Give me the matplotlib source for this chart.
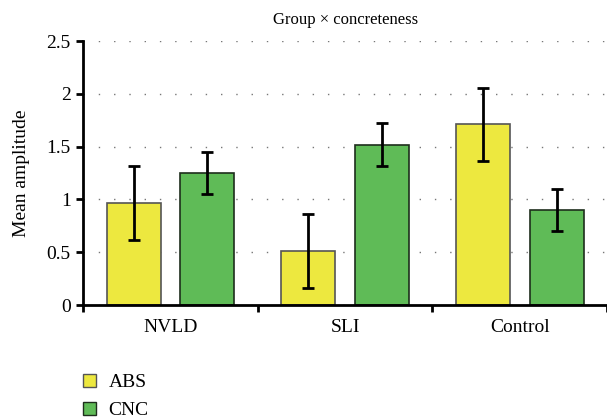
import numpy as np
import matplotlib.pyplot as plt
from matplotlib.patches import Patch

groups = ['NVLD', 'SLI', 'Control']
abs_mean = [0.97, 0.51, 1.71]
abs_err = [0.35, 0.35, 0.35]
cnc_mean = [1.25, 1.52, 0.90]
cnc_err = [0.20, 0.20, 0.20]

plt.rcParams['font.family'] = ['Liberation Serif', 'DejaVu Serif']
plt.rcParams['font.size'] = 14

fig = plt.figure(figsize=(6.07, 4.19), dpi=100)
ax = fig.add_axes([0.137, 0.272, 0.863, 0.630])

x = np.arange(len(groups)) + 0.5
w = 0.309
off = 0.211
gelb = '#ede83f'
gruen = '#5fbb57'

ax.bar(x - off, abs_mean, w, color=gelb, edgecolor='#555555', linewidth=1.2, zorder=2)
ax.bar(x + off, cnc_mean, w, color=gruen, edgecolor='#1e2e1c', linewidth=1.2, zorder=2)
ax.errorbar(x - off, abs_mean, yerr=abs_err, fmt='none', ecolor='black',
            elinewidth=2, capsize=4, capthick=2, zorder=3)
ax.errorbar(x + off, cnc_mean, yerr=cnc_err, fmt='none', ecolor='black',
            elinewidth=2, capsize=4, capthick=2, zorder=3)

ax.set_xlim(0, 3)
ax.set_ylim(0, 2.5)
ax.set_yticks([0, 0.5, 1, 1.5, 2, 2.5])
ax.set_yticklabels(['0', '0.5', '1', '1.5', '2', '2.5'])
ax.set_xticks([0, 1, 2, 3])
ax.set_xticklabels([])
ax.set_xticks(x, minor=True)
ax.set_xticklabels(groups, minor=True)
ax.tick_params(axis='x', which='minor', length=0, pad=10)
ax.tick_params(axis='x', which='major', length=5, width=2, direction='out')
ax.tick_params(axis='y', length=5, width=2, direction='out', pad=4)
ax.set_ylabel('Mean amplitude', labelpad=12)
ax.set_title('Group \u00d7 concreteness', fontsize=12, pad=12)

for s in ['top', 'right']:
    ax.spines[s].set_visible(False)
for s in ['left', 'bottom']:
    ax.spines[s].set_linewidth(2)

ax.yaxis.grid(True, linestyle=(0, (1, 10)), color='#777777', linewidth=1, zorder=0)
ax.set_axisbelow(True)

handles = [Patch(facecolor=gelb, edgecolor='#555555', label='ABS'),
           Patch(facecolor=gruen, edgecolor='#1e2e1c', label='CNC')]
fig.legend(handles=handles, loc='upper left', bbox_to_anchor=(0.124, 0.126),
           frameon=False, handlelength=0.65, handleheight=0.65,
           handletextpad=0.65, labelspacing=0.55, borderaxespad=0)

fig.savefig('out.png', dpi=100)
